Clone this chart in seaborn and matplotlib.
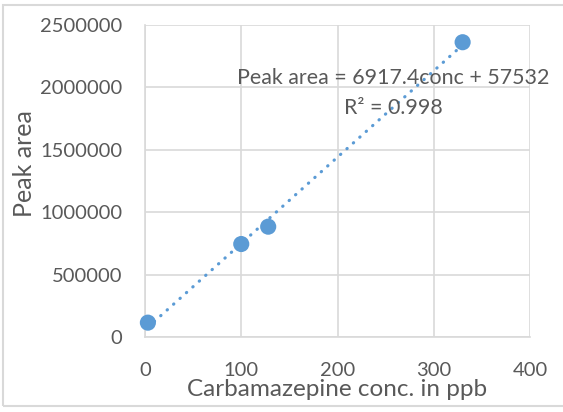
import numpy as np
import pandas as pd
import matplotlib
matplotlib.use("Agg")
import matplotlib.pyplot as plt
import seaborn as sns
from matplotlib.patches import Rectangle

# Data
conc = [3, 100, 128, 330]
peak_area = [115000, 745000, 884000, 2362000]
slope = 6917.4
intercept = 57532
r_squared = 0.998
x_ticks = [0, 100, 200, 300, 400]
y_ticks = [0, 500000, 1000000, 1500000, 2000000, 2500000]

sns.set_theme(style="white")
plt.rcParams['font.family'] = ['Lato', 'DejaVu Sans']

TXT = "#595959"
BLUE = "#5B9BD5"
GRID = "#D9D9D9"

fig = plt.figure(figsize=(5.63, 4.12), dpi=100)
ax = fig.add_axes([145/563, 1-337/412, (530-145)/563, (337-25)/412])

df = pd.DataFrame({"conc": conc, "area": peak_area})
trend = pd.DataFrame({"conc": [min(conc), max(conc)]})
trend["area"] = slope * trend["conc"] + intercept

sns.lineplot(data=trend, x="conc", y="area", ax=ax, color=BLUE, lw=2.3,
             linestyle=(0, (0.1, 2.6)), dash_capstyle='round', zorder=3)
sns.scatterplot(data=df, x="conc", y="area", ax=ax, color=BLUE, s=135,
                edgecolor="none", zorder=4, clip_on=False)

ax.set_xlim(0, 400)
ax.set_ylim(0, 2500000)
ax.set_xticks(x_ticks)
ax.set_yticks(y_ticks)
ax.set_xticklabels([str(v) for v in x_ticks])
ax.set_yticklabels([str(v) for v in y_ticks])
ax.grid(True, color=GRID, lw=1.2)
ax.set_axisbelow(True)
for s in ["top", "right"]:
    ax.spines[s].set_visible(False)
for s in ["left", "bottom"]:
    ax.spines[s].set_color(GRID)
    ax.spines[s].set_linewidth(1.2)
ax.tick_params(axis="both", length=0, colors=TXT, labelsize=14.5)
ax.tick_params(axis="x", pad=18)
ax.tick_params(axis="y", pad=16.5)
ax.set_xlabel("Carbamazepine conc. in ppb", color=TXT, fontsize=17.5)
ax.set_ylabel("Peak area", color=TXT, fontsize=18)
ax.xaxis.label.set_va("center")
ax.yaxis.label.set_va("center")
ax.xaxis.set_label_coords(0.5, (337 - 389) / 312)
ax.yaxis.set_label_coords((25 - 145) / 385, (337 - 164) / 312)

ax.text(393/563, 78, f"Peak area = {slope}conc + {intercept}", transform=None,
        color=TXT, fontsize=15.4, ha="center", va="center")
ax.text(393/563, 108, f"R² = {r_squared}", transform=None,
        color=TXT, fontsize=15.4, ha="center", va="center")
for t in ax.texts:
    t.set_transform(fig.transFigure)
    x, y = t.get_position()
    t.set_position((x, 1 - y/412))

fig.patches.append(Rectangle((3/563, 1-406/412), 1.0, (406-5)/412, transform=fig.transFigure,
                             fill=False, edgecolor="#D9D9D9", lw=1.5))

fig.savefig("out.png", dpi=100)
